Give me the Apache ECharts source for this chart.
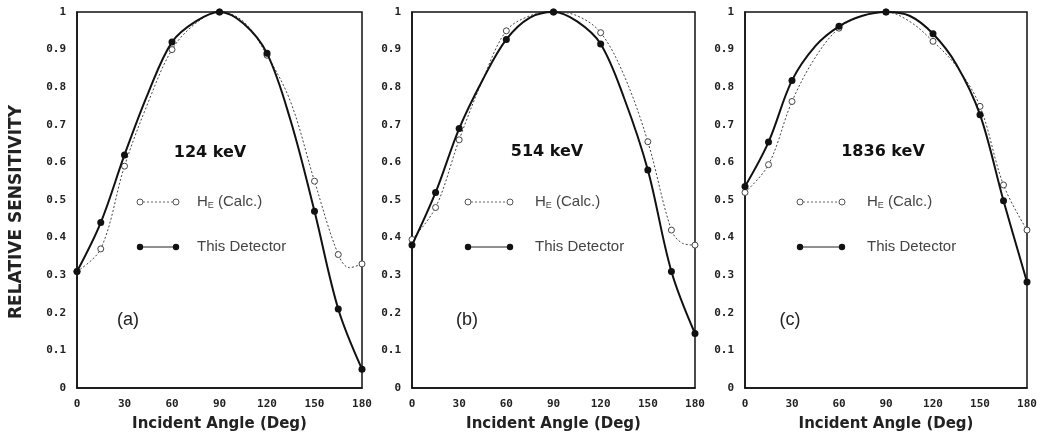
<!DOCTYPE html>
<html>
<head>
<meta charset="utf-8">
<script src="https://cdn.jsdelivr.net/npm/echarts@6/dist/echarts.min.js"></script>
<style>html,body{margin:0;padding:0;background:#fff}#c{width:1044px;height:437px}</style>
</head>
<body>
<div id="c"></div>
<script>
// ---- data ----
const xTicks = [0, 30, 60, 90, 120, 150, 180];
const yTicks = [0, 0.1, 0.2, 0.3, 0.4, 0.5, 0.6, 0.7, 0.8, 0.9, 1];
const measuredAngles = [0, 15, 30, 60, 90, 120, 150, 165, 180];

const panelLabels = ['(a)', '(b)', '(c)'];
const energyLabels = ['124 keV', '514 keV', '1836 keV'];
const calcName = 'H_E (Calc.)';
const detName = 'This Detector';

const detAnglesA = [0, 15, 30, 45, 60, 75, 90, 105, 120, 135, 150, 165, 180];
const detA = [0.31, 0.44, 0.62, 0.785, 0.92, 0.975, 1.0, 0.97, 0.89, 0.71, 0.47, 0.21, 0.05];
const calcAnglesA = [0, 15, 30, 45, 60, 75, 90, 105, 120, 135, 150, 165, 172, 180];
const calcA = [0.31, 0.37, 0.59, 0.76, 0.90, 0.97, 1.0, 0.975, 0.885, 0.76, 0.55, 0.355, 0.32, 0.33];

const detAnglesB = [0, 15, 30, 45, 60, 75, 90, 105, 120, 135, 150, 165, 180];
const detB = [0.38, 0.52, 0.69, 0.82, 0.927, 0.985, 1.0, 0.975, 0.915, 0.77, 0.58, 0.31, 0.145];
const calcAnglesB = [0, 15, 30, 45, 60, 75, 90, 105, 120, 135, 150, 165, 172, 180];
const calcB = [0.395, 0.48, 0.66, 0.82, 0.95, 0.99, 1.0, 0.99, 0.945, 0.83, 0.655, 0.42, 0.385, 0.38];

const detAnglesC = [0, 15, 30, 45, 60, 75, 90, 105, 120, 135, 150, 165, 180];
const detC = [0.536, 0.654, 0.818, 0.91, 0.962, 0.99, 1.0, 0.99, 0.942, 0.86, 0.727, 0.498, 0.282];
const calcAnglesC = [0, 15, 30, 45, 60, 75, 90, 105, 120, 135, 150, 165, 180];
const calcC = [0.52, 0.594, 0.762, 0.88, 0.957, 0.99, 1.0, 0.975, 0.922, 0.855, 0.749, 0.54, 0.42];

// ---- layout ----
const grids = [
  {left: 77, right: 682, top: 12, bottom: 49},
  {left: 412, right: 349, top: 12, bottom: 49},
  {left: 745, right: 17, top: 12, bottom: 49}
];
const panelData = [
  {det: [detAnglesA, detA], calc: [calcAnglesA, calcA]},
  {det: [detAnglesB, detB], calc: [calcAnglesB, calcB]},
  {det: [detAnglesC, detC], calc: [calcAnglesC, calcC]}
];

function toPts(angles, vals) {
  return angles.map((a, i) => {
    const p = {value: [a, vals[i]]};
    if (measuredAngles.indexOf(a) < 0) p.symbol = 'none';
    return p;
  });
}

const tickFont = {fontFamily: 'DejaVu Sans Mono', fontWeight: 'bold', fontSize: 11, color: '#222'};

const option = {
  backgroundColor: '#fff',
  animation: false,
  grid: grids.map(g => Object.assign({show: true, borderColor: '#111', borderWidth: 1.5, backgroundColor: 'transparent'}, g)),
  xAxis: grids.map((g, i) => ({
    type: 'value', gridIndex: i, min: 0, max: 180, interval: 30,
    axisLine: {show: true, lineStyle: {color: '#111', width: 1.5}},
    axisTick: {show: false}, splitLine: {show: false},
    axisLabel: Object.assign({margin: 11, formatter: v => xTicks.indexOf(v) >= 0 ? String(v) : ''}, tickFont),
    name: 'Incident Angle (Deg)', nameLocation: 'middle', nameGap: 29,
    nameTextStyle: {fontFamily: 'DejaVu Sans', fontWeight: 'bold', fontSize: 15, color: '#222'}
  })),
  yAxis: grids.map((g, i) => ({
    type: 'value', gridIndex: i, min: 0, max: 1, interval: 0.1,
    axisLine: {show: true, lineStyle: {color: '#111', width: 1.5}},
    axisTick: {show: false}, splitLine: {show: false},
    axisLabel: Object.assign({margin: 11, formatter: v => {
      const r = Math.round(v * 10) / 10;
      return yTicks.indexOf(r) >= 0 ? (r === 0 || r === 1 ? String(r) : r.toFixed(1)) : '';
    }}, tickFont)
  })),
  series: [],
  graphic: []
};

panelData.forEach((pd, i) => {
  option.series.push({
    name: calcName, type: 'line', xAxisIndex: i, yAxisIndex: i,
    data: toPts(pd.calc[0], pd.calc[1]), smooth: 0.35,
    symbol: 'circle', symbolSize: 6,
    lineStyle: {color: '#444', width: 1, type: [2, 2]},
    itemStyle: {color: '#fff', borderColor: '#444', borderWidth: 1}, z: 2
  });
  option.series.push({
    name: detName, type: 'line', xAxisIndex: i, yAxisIndex: i,
    data: toPts(pd.det[0], pd.det[1]), smooth: 0.35,
    symbol: 'circle', symbolSize: 7,
    lineStyle: {color: '#111', width: 2},
    itemStyle: {color: '#111'}, z: 3
  });
});

// annotation positions
const ann = [
  {energy: [210, 153], panel: [128, 320], leg: [140, 176, 197]},
  {energy: [547, 152], panel: [467, 320], leg: [468, 510, 535]},
  {energy: [883, 152], panel: [790, 320], leg: [800, 842, 867]}
];
const legY = [202, 247];

option.graphic.push({
  type: 'text', x: 17, y: 212, rotation: Math.PI / 2,
  style: {text: 'RELATIVE SENSITIVITY', fontFamily: 'DejaVu Sans', fontWeight: 'bold', fontSize: 17,
    fill: '#222', align: 'center', verticalAlign: 'middle'}
});

ann.forEach((a, i) => {
  option.graphic.push({
    type: 'text', x: a.energy[0], y: a.energy[1],
    style: {text: energyLabels[i], fontFamily: 'DejaVu Sans', fontWeight: 'bold', fontSize: 16,
      fill: '#111', align: 'center', verticalAlign: 'middle'}
  });
  option.graphic.push({
    type: 'text', x: a.panel[0], y: a.panel[1],
    style: {text: panelLabels[i], fontFamily: 'Liberation Sans', fontSize: 18,
      fill: '#222', align: 'center', verticalAlign: 'middle'}
  });
  // legend: calc
  option.graphic.push({type: 'line', shape: {x1: a.leg[0] + 3, y1: legY[0], x2: a.leg[1] - 3, y2: legY[0]},
    style: {stroke: '#666', lineWidth: 1, lineDash: [2, 2]}});
  [a.leg[0], a.leg[1]].forEach(x => option.graphic.push({type: 'circle', shape: {cx: x, cy: legY[0], r: 3},
    style: {fill: '#fff', stroke: '#555', lineWidth: 1}}));
  option.graphic.push({
    type: 'text', x: a.leg[2], y: legY[0],
    style: {rich: {n: {fontFamily: 'Liberation Sans', fontSize: 15, fill: '#444'},
      s: {fontFamily: 'Liberation Sans', fontSize: 9, fill: '#444', padding: [8, 0, 0, 0]}},
      text: '{n|H}{s|E}{n| (Calc.)}', verticalAlign: 'middle', align: 'left'}
  });
  // legend: detector
  option.graphic.push({type: 'line', shape: {x1: a.leg[0], y1: legY[1], x2: a.leg[1], y2: legY[1]},
    style: {stroke: '#222', lineWidth: 1.2}});
  [a.leg[0], a.leg[1]].forEach(x => option.graphic.push({type: 'circle', shape: {cx: x, cy: legY[1], r: 3.2},
    style: {fill: '#111'}}));
  option.graphic.push({
    type: 'text', x: a.leg[2], y: legY[1],
    style: {text: detName, fontFamily: 'Liberation Sans', fontSize: 15, fill: '#444',
      verticalAlign: 'middle', align: 'left'}
  });
});

const chart = echarts.init(document.getElementById('c'), null, {renderer: 'canvas'});
chart.setOption(option);
</script>
</body>
</html>
